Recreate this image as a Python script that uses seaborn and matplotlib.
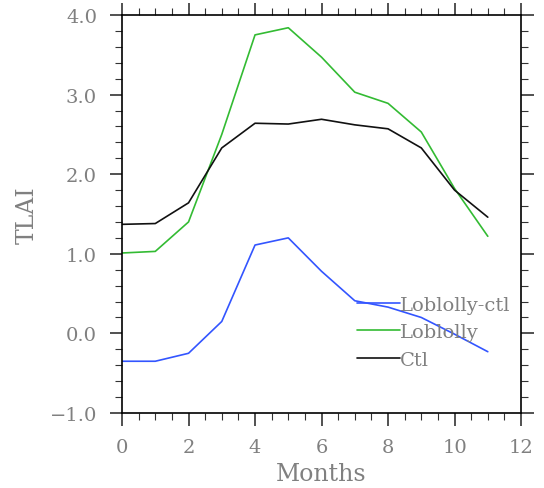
import matplotlib
matplotlib.use("Agg")
import matplotlib.pyplot as plt
from matplotlib.ticker import MultipleLocator, FuncFormatter
import seaborn as sns
import pandas as pd

months = list(range(12))
ctl = [1.37, 1.38, 1.64, 2.33, 2.64, 2.63, 2.69, 2.62, 2.57, 2.33, 1.80, 1.46]
loblolly = [1.01, 1.03, 1.40, 2.50, 3.75, 3.84, 3.47, 3.03, 2.89, 2.53, 1.82, 1.22]
diff = [-0.35, -0.35, -0.25, 0.15, 1.11, 1.20, 0.78, 0.41, 0.33, 0.20, -0.01, -0.23]
series_names = ["Loblolly-ctl", "Loblolly", "Ctl"]
colors = ["#3355ff", "#33bb33", "#111111"]

df = pd.concat([
    pd.DataFrame({"Months": months, "TLAI": diff, "series": series_names[0]}),
    pd.DataFrame({"Months": months, "TLAI": loblolly, "series": series_names[1]}),
    pd.DataFrame({"Months": months, "TLAI": ctl, "series": series_names[2]}),
])

sns.set_style("ticks")
plt.rcParams["font.family"] = ["DejaVu Serif"]
grey = "#808080"

fig = plt.figure(figsize=(5.44, 4.89), dpi=100)
ax = fig.add_axes([0.2243, 0.1534, 0.7335, 0.8139])
sns.lineplot(data=df, x="Months", y="TLAI", hue="series",
             palette=dict(zip(series_names, colors)), hue_order=series_names,
             linewidth=1.2, ax=ax, legend=True)

ax.set_xlim(0, 12)
ax.set_ylim(-1.0, 4.0)
ax.xaxis.set_major_locator(MultipleLocator(2))
ax.xaxis.set_minor_locator(MultipleLocator(0.5))
ax.yaxis.set_major_locator(MultipleLocator(1.0))
ax.yaxis.set_minor_locator(MultipleLocator(0.2))
ax.yaxis.set_major_formatter(FuncFormatter(lambda v, p: f"{v:.1f}".replace("-", "\u2212")))

for s in ax.spines.values():
    s.set_visible(True)
    s.set_color("black")
    s.set_linewidth(1.2)

ax.tick_params(which="both", direction="out", top=True, right=True,
               labeltop=False, labelright=False, color="#333333")
ax.tick_params(which="major", length=9, width=1.2, labelsize=14, labelcolor=grey, pad=9)
ax.tick_params(which="minor", length=5, width=0.8)

ax.set_xlabel("Months", fontsize=17, color=grey, labelpad=4)
ax.set_ylabel("TLAI", fontsize=17, color=grey, labelpad=8)

leg = ax.legend(loc="upper left", bbox_to_anchor=(0.589, 0.295), frameon=False,
                handlelength=2.2, handletextpad=0.0, borderpad=0, borderaxespad=0,
                labelspacing=0.5, fontsize=14)
for t in leg.get_texts():
    t.set_color(grey)

fig.savefig("out.png", dpi=100)
